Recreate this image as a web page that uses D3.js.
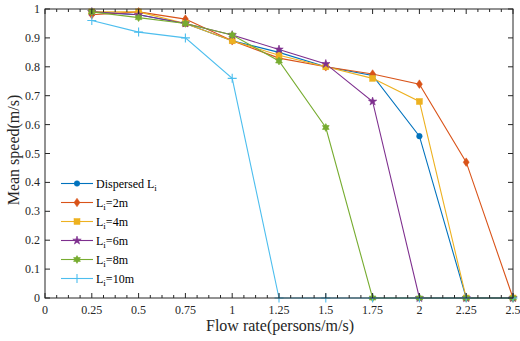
<!DOCTYPE html>
<html><head><meta charset="utf-8">
<script src="https://cdn.jsdelivr.net/npm/d3@7"></script>
<style>body{margin:0;background:#fff}svg{display:block}</style>
</head><body>
<svg id="c" width="520" height="341" font-family="'Liberation Serif', 'DejaVu Serif', serif"></svg>
<script>
const flowRates = [0.25,0.5,0.75,1,1.25,1.5,1.75,2,2.25,2.5];
const seriesNames = ["Dispersed","2m","4m","6m","8m","10m"];
const dispersed = [0.99,0.98,0.95,0.89,0.85,0.80,0.77,0.56,0,0];
const li2m  = [0.98,0.99,0.965,0.89,0.83,0.80,0.775,0.74,0.47,0];
const li4m  = [0.99,0.99,0.95,0.89,0.84,0.80,0.76,0.68,0,0];
const li6m  = [0.99,0.98,0.95,0.91,0.86,0.81,0.68,0,0,0];
const li8m  = [0.99,0.97,0.95,0.91,0.82,0.59,0,0,0,0];
const li10m = [0.96,0.92,0.90,0.76,0,0,0,0,0,0];
const xTicks = [0,0.25,0.5,0.75,1,1.25,1.5,1.75,2,2.25,2.5];
const xTickLabels = ["0","0.25","0.5","0.75","1","1.25","1.5","1.75","2","2.25","2.5"];
const yTicks = [0,0.1,0.2,0.3,0.4,0.5,0.6,0.7,0.8,0.9,1];
const yTickLabels = ["0","0.1","0.2","0.3","0.4","0.5","0.6","0.7","0.8","0.9","1"];
const colors = ["#0072BD","#D95319","#EDB120","#7E2F8E","#77AC30","#4DBEEE"];
const markers = ["circle","diamond","square","star","hex","plus"];

const svg = d3.select("#c");
const L=45,R=513,T=9,B=298;
const x = d3.scaleLinear().domain([0,2.5]).range([L,R]);
const y = d3.scaleLinear().domain([0,1]).range([B,T]);
const data = [dispersed,li2m,li4m,li6m,li8m,li10m];

const g = svg.append("g");
const line = d3.line().x((d,i)=>x(flowRates[i])).y(d=>y(d));
function marker(sel, type, color, cx, cy){
  if(type==="circle") sel.append("circle").attr("cx",cx).attr("cy",cy).attr("r",2.8).attr("fill",color).attr("stroke",color).attr("stroke-width",0.5);
  else if(type==="diamond") sel.append("path").attr("d",`M${cx},${cy-4.3}L${cx+3},${cy}L${cx},${cy+4.3}L${cx-3},${cy}Z`).attr("fill",color).attr("stroke",color).attr("stroke-width",0.5);
  else if(type==="square") sel.append("rect").attr("x",cx-3).attr("y",cy-3).attr("width",6).attr("height",6).attr("fill",color).attr("stroke",color).attr("stroke-width",0.5);
  else if(type==="star") sel.append("path").attr("d",d3.symbol(d3.symbolStar,22)()).attr("transform",`translate(${cx},${cy})`).attr("fill",color).attr("stroke",color).attr("stroke-width",0.6);
  else if(type==="hex"){
    let p="";
    for(let k=0;k<12;k++){const r=k%2?2.3:3.9;const a=Math.PI/6*k-Math.PI/2;p+=(k?"L":"M")+(cx+r*Math.cos(a))+","+(cy+r*Math.sin(a));}
    sel.append("path").attr("d",p+"Z").attr("fill",color).attr("stroke",color).attr("stroke-width",0.6);
  }
  else if(type==="plus") sel.append("path").attr("d",`M${cx-4.5},${cy}H${cx+4.5}M${cx},${cy-4.5}V${cy+4.5}`).attr("stroke",color).attr("stroke-width",1.1).attr("fill","none");
}
data.forEach((vals,si)=>{
  g.append("path").attr("d",line(vals)).attr("fill","none").attr("stroke",colors[si]).attr("stroke-width",1.1);
});
data.forEach((vals,si)=>{
  vals.forEach((v,i)=>marker(g,markers[si],colors[si],x(flowRates[i]),y(v)));
});

const ax = svg.append("g").attr("stroke","#262626").attr("fill","none");
ax.append("rect").attr("x",L).attr("y",T).attr("width",R-L).attr("height",B-T).attr("stroke-width",1);
const minor = d3.range(0,2.5001,0.0625);
minor.forEach(v=>{
  const isMajor = Math.abs(v/0.25-Math.round(v/0.25))<1e-6;
  const len = isMajor?5:3;
  ax.append("line").attr("x1",x(v)).attr("x2",x(v)).attr("y1",B).attr("y2",B-len);
  ax.append("line").attr("x1",x(v)).attr("x2",x(v)).attr("y1",T).attr("y2",T+len);
});
yTicks.forEach(v=>{
  ax.append("line").attr("x1",L).attr("x2",L+5).attr("y1",y(v)).attr("y2",y(v));
  ax.append("line").attr("x1",R).attr("x2",R-5).attr("y1",y(v)).attr("y2",y(v));
});
const tl = svg.append("g").attr("fill","#262626").attr("font-size",12);
xTicks.forEach((v,i)=>tl.append("text").attr("x",x(v)).attr("y",B+16).attr("text-anchor","middle").text(xTickLabels[i]));
yTicks.forEach((v,i)=>tl.append("text").attr("x",L-5).attr("y",y(v)+4).attr("text-anchor","end").text(yTickLabels[i]));

svg.append("text").attr("x",280).attr("y",331).attr("text-anchor","middle").attr("font-size",16).attr("fill","#262626").text("Flow rate(persons/m/s)");
svg.append("text").attr("transform",`translate(19,150) rotate(-90)`).attr("text-anchor","middle").attr("font-size",16).attr("fill","#262626").text("Mean speed(m/s)");

const lg = svg.append("g");
seriesNames.forEach((n,si)=>{
  const yy = 183.5 + si*19;
  lg.append("line").attr("x1",61).attr("x2",93).attr("y1",yy).attr("y2",yy).attr("stroke",colors[si]).attr("stroke-width",1.1);
  marker(lg,markers[si],colors[si],77,yy);
  const t = lg.append("text").attr("x",96).attr("y",yy+4).attr("font-size",12).attr("fill","#000");
  if(si===0){ t.append("tspan").text("Dispersed L"); t.append("tspan").attr("font-size",9).attr("dy",3).text("i"); }
  else { t.append("tspan").text("L"); t.append("tspan").attr("font-size",9).attr("dy",3).text("i"); t.append("tspan").attr("dy",-3).text("="+n); }
});
</script>
</body></html>
